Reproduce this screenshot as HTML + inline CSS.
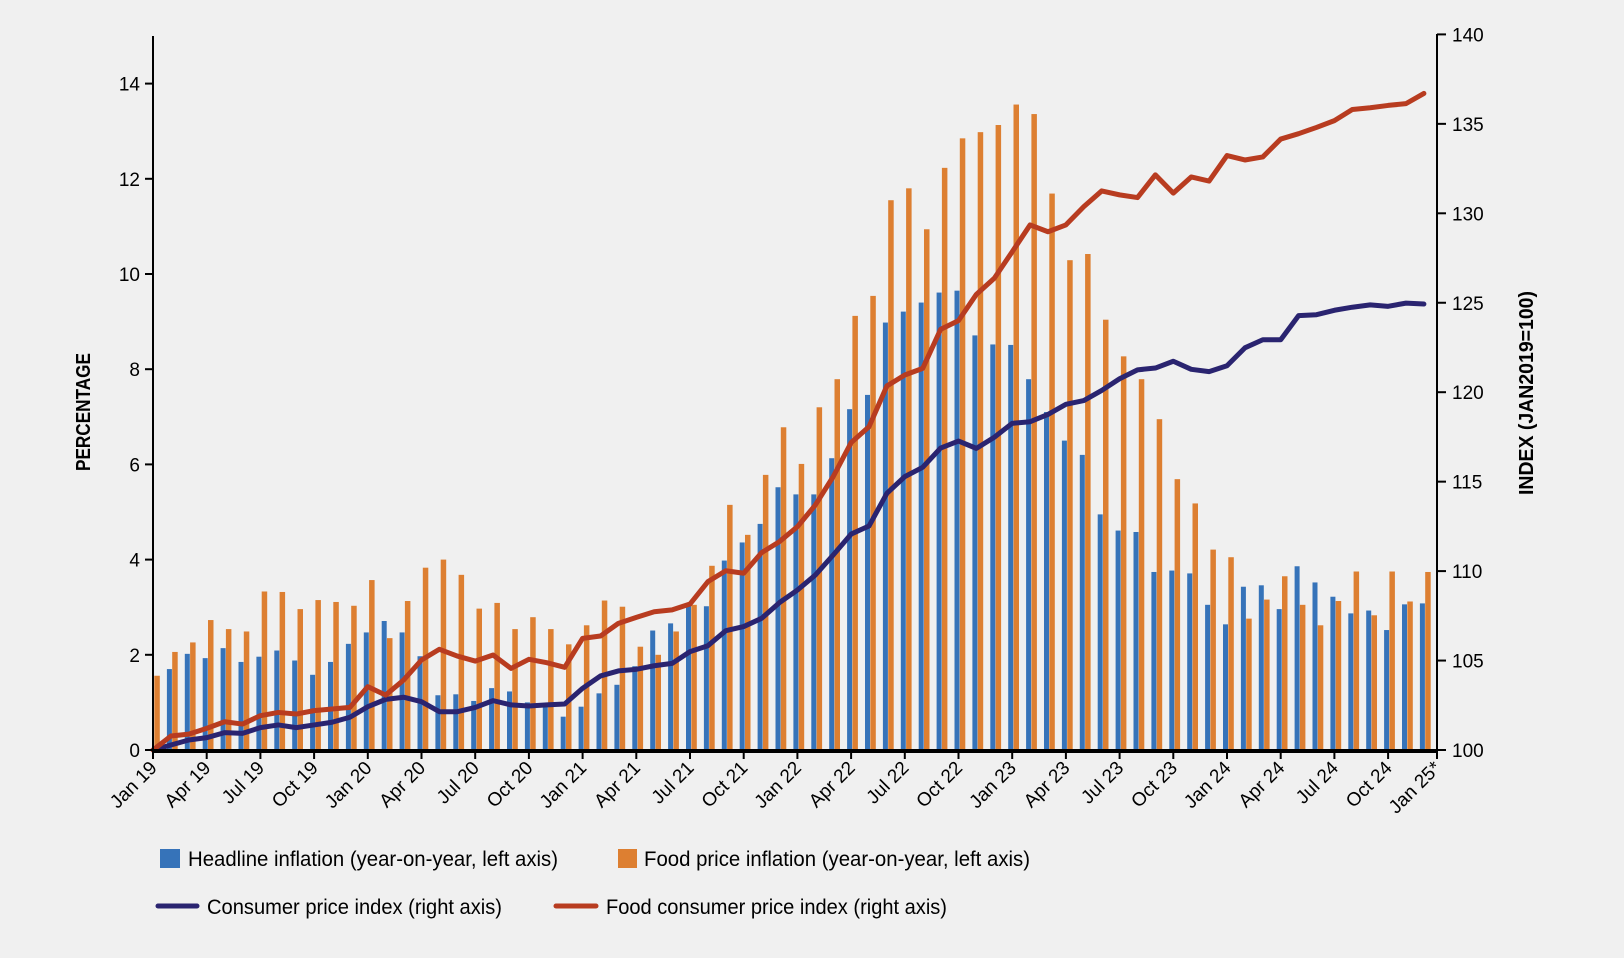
<!DOCTYPE html>
<html><head><meta charset="utf-8"><style>
html,body{margin:0;padding:0;background:#f0f0f0;}
svg{display:block;font-family:"Liberation Sans",sans-serif;}
</style></head><body>
<svg id="chart" width="1624" height="958" viewBox="0 0 1624 958" xmlns="http://www.w3.org/2000/svg">
<rect width="1624" height="958" fill="#f0f0f0"/>
<g id="bars"></g>
<g id="lines"></g>
<g id="axes"></g>
<text transform="translate(90,412) rotate(-90)" text-anchor="middle" font-size="20" font-weight="bold" textLength="118" lengthAdjust="spacingAndGlyphs">PERCENTAGE</text>
<text transform="translate(1533,393) rotate(-90)" text-anchor="middle" font-size="20" font-weight="bold" textLength="204" lengthAdjust="spacingAndGlyphs">INDEX (JAN2019=100)</text>
<g>
<g>
<rect x="160" y="849" width="20" height="19" fill="#3673b9"/>
<text x="188" y="866" font-size="21" textLength="370" lengthAdjust="spacingAndGlyphs">Headline inflation (year-on-year, left axis)</text></g>
<g>
<rect x="618" y="849" width="19" height="19" fill="#dd7f31"/>
<text x="644" y="866" font-size="21" textLength="386" lengthAdjust="spacingAndGlyphs">Food price inflation (year-on-year, left axis)</text></g>
<g>
<line x1="158" y1="906" x2="197" y2="906" stroke="#2a2470" stroke-width="5" stroke-linecap="round"/>
<text x="207" y="914" font-size="21" textLength="295" lengthAdjust="spacingAndGlyphs">Consumer price index (right axis)</text></g>
<g>
<line x1="556" y1="906" x2="596" y2="906" stroke="#b83c20" stroke-width="5" stroke-linecap="round"/>
<text x="606" y="914" font-size="21" textLength="341" lengthAdjust="spacingAndGlyphs">Food consumer price index (right axis)</text></g>
</g>
</svg>
<script>
const headline = [null,1.70,2.02,1.93,2.14,1.85,1.96,2.09,1.88,1.58,1.85,2.23,
2.47,2.71,2.47,1.97,1.15,1.17,1.03,1.30,1.23,1.00,0.97,0.70,
0.91,1.19,1.37,1.76,2.51,2.66,3.05,3.02,3.98,4.36,4.75,5.52,
5.37,5.37,6.13,7.16,7.46,8.98,9.21,9.40,9.61,9.65,8.71,8.52,
8.51,7.79,7.10,6.50,6.20,4.95,4.61,4.58,3.74,3.77,3.71,3.05,
2.64,3.43,3.46,2.96,3.86,3.52,3.22,2.87,2.93,2.52,3.06,3.08];
const foodInfl = [1.56,2.06,2.26,2.73,2.54,2.49,3.33,3.32,2.96,3.15,3.11,3.03,
3.57,2.35,3.13,3.83,4.00,3.68,2.97,3.09,2.54,2.79,2.54,2.22,
2.62,3.14,3.01,2.17,2.00,2.49,3.05,3.87,5.15,4.52,5.78,6.78,
6.01,7.20,7.79,9.12,9.54,11.55,11.80,10.94,12.23,12.85,12.98,13.13,
13.56,13.36,11.69,10.29,10.42,9.04,8.27,7.79,6.95,5.69,5.18,4.21,
4.05,2.76,3.16,3.65,3.05,2.62,3.13,3.75,2.83,3.75,3.12,3.74];
const cpi = [100,100.28,100.56,100.69,100.97,100.93,101.25,101.40,101.25,101.40,101.55,101.83,
102.42,102.83,102.95,102.70,102.14,102.14,102.38,102.76,102.52,102.46,102.52,102.57,
103.45,104.14,104.42,104.51,104.71,104.84,105.50,105.83,106.67,106.90,107.36,108.24,
108.94,109.78,110.90,112.07,112.52,114.35,115.28,115.80,116.88,117.27,116.86,117.48,
118.26,118.35,118.76,119.32,119.53,120.10,120.75,121.25,121.35,121.73,121.28,121.15,
121.48,122.48,122.93,122.93,124.28,124.33,124.58,124.75,124.88,124.80,124.98,124.93];
const foodCpi = [100,100.78,100.89,101.21,101.58,101.45,101.92,102.10,102.01,102.20,102.29,102.38,
103.54,103.07,103.91,105.03,105.63,105.25,104.97,105.31,104.56,105.07,104.88,104.62,
106.24,106.37,107.08,107.41,107.73,107.83,108.16,109.41,110.02,109.88,111.03,111.65,
112.48,113.69,115.28,117.18,118.07,120.35,120.96,121.33,123.51,124.00,125.47,126.37,
127.85,129.35,128.97,129.35,130.37,131.25,131.03,130.88,132.15,131.13,132.03,131.80,
133.23,132.98,133.15,134.15,134.45,134.80,135.18,135.80,135.90,136.03,136.13,136.70];
const leftTicks = [0,2,4,6,8,10,12,14];
const rightTicks = [100,105,110,115,120,125,130,135,140];
const xLabels = ["Jan 19","Apr 19","Jul 19","Oct 19","Jan 20","Apr 20","Jul 20","Oct 20","Jan 21","Apr 21","Jul 21","Oct 21","Jan 22","Apr 22","Jul 22","Oct 22","Jan 23","Apr 23","Jul 23","Oct 23","Jan 24","Apr 24","Jul 24","Oct 24","Jan 25*"];

const NS="http://www.w3.org/2000/svg";
const X0=153, STEP=17.9, Y0=750;
const xm = m => X0 + STEP*m;
const yL = v => Y0 - v*47.6;
const yR = v => Y0 - (v-100)*17.89;
function mk(tag, attrs, parent){const e=document.createElementNS(NS,tag);for(const k in attrs)e.setAttribute(k,attrs[k]);parent.appendChild(e);return e;}
const bars=document.getElementById('bars'), lines=document.getElementById('lines'), axes=document.getElementById('axes');

headline.forEach((v,i)=>{ if(v==null) return;
  const r=mk('rect',{x:xm(i)-4,y:yL(v),width:5,height:Y0-yL(v),fill:'#3673b9'},bars);
  
  
});
foodInfl.forEach((v,i)=>{
  const r=mk('rect',{x:xm(i)+1.3,y:yL(v),width:5.5,height:Y0-yL(v),fill:'#dd7f31'},bars);
  
  
});
function line(arr,color,name){
  const p=mk('polyline',{points:arr.map((v,i)=>xm(i)+','+yR(v)).join(' '),fill:'none',stroke:color,'stroke-width':5,'stroke-linejoin':'round','stroke-linecap':'round'},lines);
  
  
}
line(cpi,'#2a2470','cpi-line');
line(foodCpi,'#b83c20','food-cpi-line');

let a=mk('line',{x1:153,y1:36,x2:153,y2:751,stroke:'#000','stroke-width':2},axes);


a=mk('line',{x1:1437,y1:34,x2:1437,y2:751,stroke:'#000','stroke-width':2},axes);


a=mk('line',{x1:152,y1:751,x2:1438,y2:751,stroke:'#000','stroke-width':4},axes);


leftTicks.forEach(v=>{
  mk('line',{x1:145,y1:yL(v),x2:153,y2:yL(v),stroke:'#000','stroke-width':2},axes);
  const t=mk('text',{x:140,y:yL(v)+7,'text-anchor':'end','font-size':19},axes);
  t.textContent=v;
  
  
});
rightTicks.forEach(v=>{
  mk('line',{x1:1437,y1:yR(v),x2:1446,y2:yR(v),stroke:'#000','stroke-width':2},axes);
  const t=mk('text',{x:1452,y:yR(v)+7,'font-size':19},axes);
  t.textContent=v;
  
  
});
xLabels.forEach((s,k)=>{
  const x=Math.min(xm(k*3),1437);
  mk('line',{x1:x,y1:751,x2:x,y2:759,stroke:'#000','stroke-width':2},axes);
  const t=mk('text',{transform:'translate('+(x+5)+',769) rotate(-45)','text-anchor':'end','font-size':19},axes);
  t.textContent=s;
  
  
});
</script>
</body></html>
